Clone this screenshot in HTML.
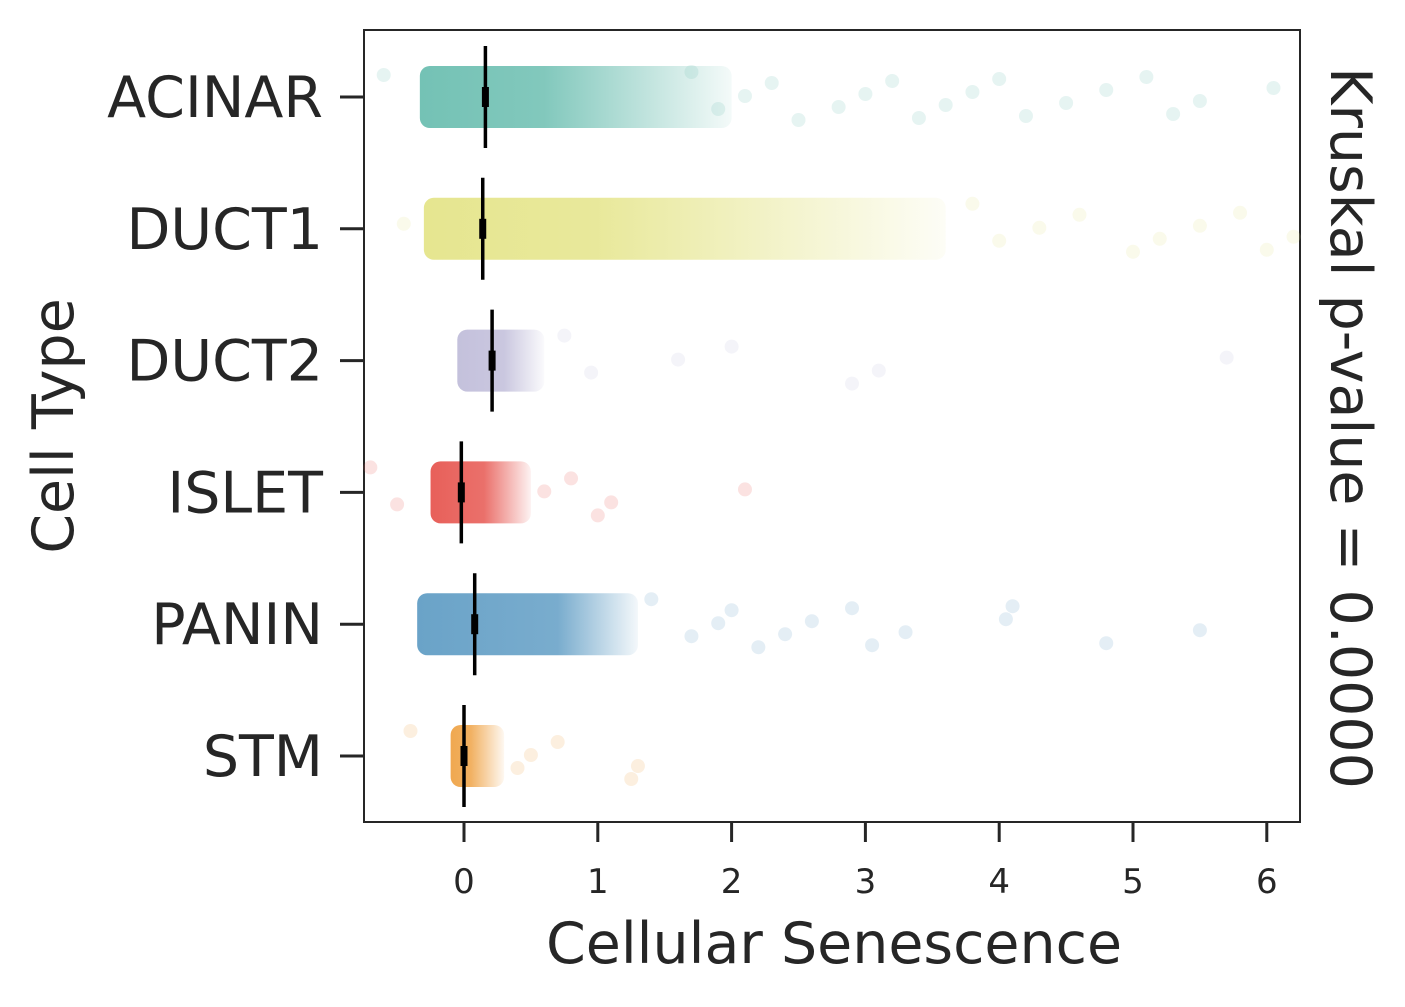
<!DOCTYPE html>
<html><head><meta charset="utf-8"><style>
html,body{margin:0;padding:0;background:#fff}
svg{display:block;font-family:"DejaVu Sans","Liberation Sans",sans-serif}
</style></head><body>
<svg id="chart" width="1405" height="1007" viewBox="0 0 1405 1007">
<defs></defs>
<rect x="364" y="30" width="936" height="792" fill="#fff" stroke="#262626" stroke-width="2"/>
<g id="marks"></g>
<g id="axes"></g>
<text x="834" y="963" font-size="57" text-anchor="middle" fill="#262626">Cellular Senescence</text>
<text transform="translate(73,426) rotate(-90)" font-size="57" text-anchor="middle" fill="#262626">Cell Type</text>
<text transform="translate(1331,428) rotate(90)" font-size="57" text-anchor="middle" fill="#262626">Kruskal p-value = 0.0000</text>
</svg>
<script>
const categories=["ACINAR","DUCT1","DUCT2","ISLET","PANIN","STM"];
const colors=["#74c2b5","#e6e690","#c4c1dc","#e8605a","#6aa3c8","#f0a850"];
const bulkStart=[-0.33,-0.3,-0.05,-0.25,-0.35,-0.1];
const bulkSolidEnd=[0.6,1.0,0.3,0.15,0.7,0.05];
const bulkFadeEnd=[2.0,3.6,0.6,0.5,1.3,0.3];
const medians=[0.16,0.14,0.21,-0.02,0.08,0.0];
const outliers=[
 [1.7,1.9,2.1,2.3,2.5,2.8,3.0,3.2,3.4,3.6,3.8,4.0,4.2,4.5,4.8,5.1,5.3,5.5,6.05,-0.6],
 [3.8,4.0,4.3,4.6,5.0,5.2,5.5,5.8,6.0,6.2,-0.45],
 [0.75,0.95,1.6,2.0,2.9,3.1,5.7],
 [-0.7,-0.5,0.6,0.8,1.0,1.1,2.1],
 [1.4,1.7,1.9,2.0,2.2,2.4,2.6,2.9,3.05,3.3,4.05,4.1,4.8,5.5],
 [-0.4,0.4,0.5,0.7,1.25,1.3]
];
const xTicks=[0,1,2,3,4,5,6];
const NS="http://www.w3.org/2000/svg";
const X=v=>464+v*133.8;
const Y=i=>97+i*131.8;
const svg=document.getElementById('chart');
const defs=svg.querySelector('defs');
const marks=document.getElementById('marks');
const axes=document.getElementById('axes');
function mk(t,a,p){const e=document.createElementNS(NS,t);for(const k in a)e.setAttribute(k,a[k]);(p||marks).appendChild(e);return e;}
categories.forEach((c,i)=>{
  const y=Y(i),x0=X(bulkStart[i]),x1=X(bulkSolidEnd[i]),x2=X(bulkFadeEnd[i]);
  const g=mk('linearGradient',{id:'g'+i,gradientUnits:'userSpaceOnUse',x1:x0,x2:x2,y1:0,y2:0},defs);
  const f=(x1-x0)/Math.max(1,(x2-x0));
  mk('stop',{offset:0,'stop-color':colors[i],'stop-opacity':1},g);
  mk('stop',{offset:f,'stop-color':colors[i],'stop-opacity':0.9},g);
  mk('stop',{offset:1,'stop-color':colors[i],'stop-opacity':0.08},g);
  const band=mk('rect',{x:x0,y:y-31,width:x2-x0,height:62,rx:10,fill:'url(#g'+i+')'});
  
  
  outliers[i].forEach((v,j)=>{
    const dy=((j*37)%50)-25;
    const p=mk('circle',{cx:X(v),cy:y+dy,r:7,fill:colors[i],'fill-opacity':0.18});
    
    
  });
  const m=mk('line',{x1:X(medians[i]),x2:X(medians[i]),y1:y-51,y2:y+51,stroke:'#000','stroke-width':3.5});
  
  
  const mb=mk('line',{x1:X(medians[i]),x2:X(medians[i]),y1:y-10,y2:y+10,stroke:'#000','stroke-width':7});
  
  
  const t=mk('line',{x1:340,x2:364,y1:y,y2:y,stroke:'#262626','stroke-width':3},axes);
  
  
  const l=mk('text',{x:323,y:y+20,'font-size':57,'text-anchor':'end',fill:'#262626'},axes);
  l.textContent=c;
  
  
});
xTicks.forEach(v=>{
  const t=mk('line',{x1:X(v),x2:X(v),y1:822,y2:842,stroke:'#262626','stroke-width':3},axes);
  
  
  const l=mk('text',{x:X(v),y:893,'font-size':34,'text-anchor':'middle',fill:'#262626'},axes);
  l.textContent=v;
  
  
});
</script>
</body></html>
